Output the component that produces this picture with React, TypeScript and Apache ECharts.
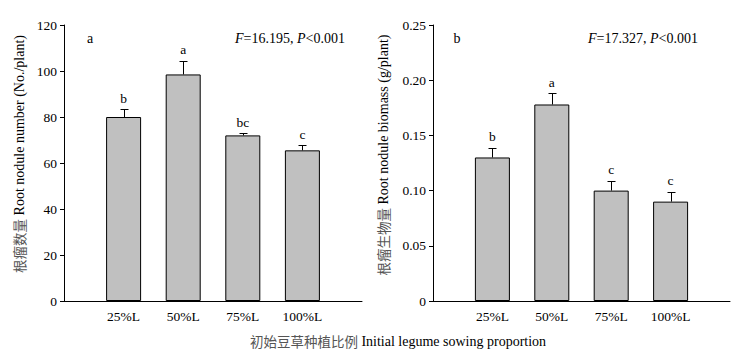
import React, { useEffect, useRef } from "react";
import * as echarts from "echarts";

const categories = ["25%L", "50%L", "75%L", "100%L"];
const noduleNumber = [80, 98.5, 72, 65.5];
const noduleNumberErr = [3.4, 6, 1, 2.2];
const numberLetters = ["b", "a", "bc", "c"];
const noduleBiomass = [0.13, 0.178, 0.1, 0.09];
const biomassErr = [0.009, 0.01, 0.009, 0.009];
const biomassLetters = ["b", "a", "c", "c"];
const numberTicks = { min: 0, max: 120, interval: 20 };
const biomassTicks = { min: 0, max: 0.25, interval: 0.05 };

const FONT = '"Liberation Serif", "Times New Roman", "Noto Sans CJK SC", serif';
const CJK = '"Noto Sans CJK SC", sans-serif';

export default function App() {
  const ref = useRef<HTMLDivElement>(null);
  useEffect(() => {
    if (!ref.current) return;
    const chart = echarts.init(ref.current, undefined, { renderer: "svg" });
    const axisData = ["", ...categories, ""];

    const xAxisBase = (gridIndex: number) => ({
      type: "category",
      gridIndex,
      data: axisData,
      boundaryGap: false,
      axisLine: { lineStyle: { color: "#000", width: 1 } },
      axisTick: { show: false },
      axisLabel: { color: "#000", fontFamily: FONT, fontSize: 13.5, margin: 9, interval: 0 },
      splitLine: { show: false },
    });
    const yAxisBase = (gridIndex: number, t: any, fmt: (v: number) => string) => ({
      type: "value",
      gridIndex,
      min: t.min,
      max: t.max,
      interval: t.interval,
      axisLine: { show: true, lineStyle: { color: "#000", width: 1 } },
      axisTick: { show: true, inside: false, length: 4, lineStyle: { color: "#000" } },
      axisLabel: { color: "#000", fontFamily: FONT, fontSize: 13.5, margin: 7, formatter: fmt },
      splitLine: { show: false },
    });

    const errSeries = (xi: number, yi: number, means: number[], errs: number[], letters: string[]) => ({
      type: "custom",
      xAxisIndex: xi,
      yAxisIndex: yi,
      z: 5,
      data: means.map((m, i) => [i + 1, m, errs[i]]),
      renderItem: (params: any, api: any) => {
        const idx = api.value(0);
        const mean = api.value(1);
        const err = api.value(2);
        const pb = api.coord([idx, mean]);
        const pt = api.coord([idx, mean + err]);
        const x = Math.round(pb[0]) + 0.5;
        const yt = Math.round(pt[1]) + 0.5;
        return {
          type: "group",
          children: [
            { type: "line", shape: { x1: x, y1: pb[1], x2: x, y2: yt }, style: { stroke: "#000", lineWidth: 1 } },
            { type: "line", shape: { x1: x - 4, y1: yt, x2: x + 4, y2: yt }, style: { stroke: "#000", lineWidth: 1 } },
            {
              type: "text",
              x: pb[0],
              y: pt[1] - 11,
              style: {
                text: letters[params.dataIndex],
                fill: "#000",
                fontFamily: FONT,
                fontSize: 13.5,
                align: "center",
                verticalAlign: "middle",
              },
            },
          ],
        };
      },
    });

    const barSeries = (xi: number, yi: number, vals: number[]) => ({
      type: "bar",
      xAxisIndex: xi,
      yAxisIndex: yi,
      barWidth: 35,
      data: ["-", ...vals, "-"],
      itemStyle: { color: "#c0c0c0", borderColor: "#000", borderWidth: 1 },
      z: 2,
    });

    const txt = (x: number, y: number, text: string, extra: any = {}) => ({
      type: "text",
      x,
      y,
      style: {
        text,
        fill: "#000",
        fontFamily: FONT,
        fontSize: 14,
        align: "center",
        verticalAlign: "middle",
        ...extra,
      },
    });
    const richBase = {
      i: { fontStyle: "italic", fontFamily: FONT, fontSize: 14, fill: "#000" },
      c: { fontFamily: CJK, fontSize: 13.5, fill: "#555" },
    };

    chart.setOption({
      animation: false,
      backgroundColor: "#fff",
      grid: [
        { left: 64, top: 25, width: 298, height: 276 },
        { left: 433, top: 25, width: 297, height: 276 },
      ],
      xAxis: [xAxisBase(0), xAxisBase(1)],
      yAxis: [
        yAxisBase(0, numberTicks, (v: number) => String(v)),
        yAxisBase(1, biomassTicks, (v: number) => (v === 0 ? "0" : v.toFixed(2))),
      ],
      series: [
        barSeries(0, 0, noduleNumber),
        errSeries(0, 0, noduleNumber, noduleNumberErr, numberLetters),
        barSeries(1, 1, noduleBiomass),
        errSeries(1, 1, noduleBiomass, biomassErr, biomassLetters),
      ],
      graphic: [
        txt(90, 38, "a"),
        txt(457, 38, "b"),
        txt(235, 38, "{i|F}=16.195, {i|P}<0.001", { align: "left", rich: richBase }),
        txt(588, 38, "{i|F}=17.327, {i|P}<0.001", { align: "left", rich: richBase }),
        { ...txt(19, 154, "{c|根瘤数量} Root nodule number (No./plant)", { rich: richBase }), rotation: Math.PI / 2 },
        { ...txt(383, 155, "{c|根瘤生物量} Root nodule biomass (g/plant)", { rich: richBase }), rotation: Math.PI / 2 },
        txt(398, 341, "{c|初始豆草种植比例} Initial legume sowing proportion", { rich: richBase }),
      ],
    });
    return () => chart.dispose();
  }, []);
  return (
    <div
      ref={ref}
      style={{ position: "absolute", left: 0, top: 0, width: 752, height: 356, background: "#fff" }}
    />
  );
}
